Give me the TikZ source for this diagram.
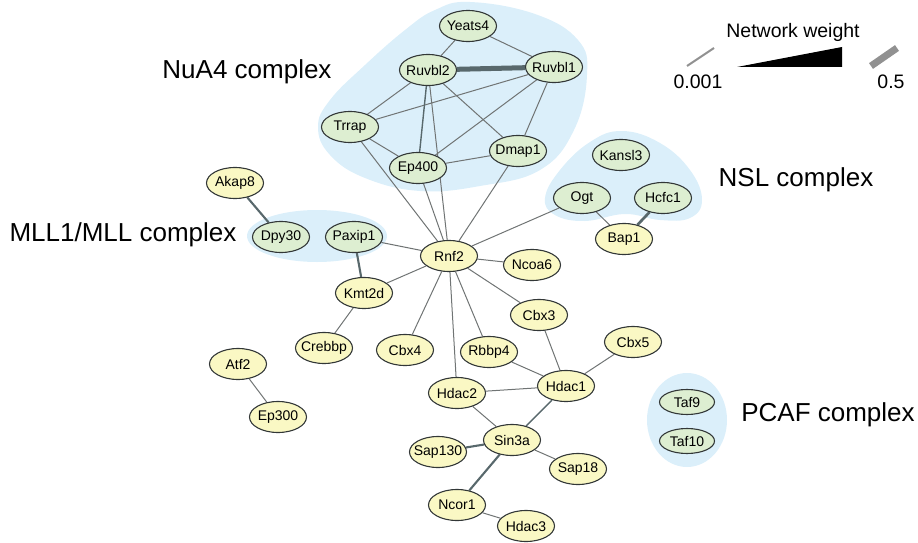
\documentclass[tikz,border=0pt]{standalone}
\usepackage{fontspec}
\setmainfont{Liberation Sans}
\usetikzlibrary{shapes.geometric}
\definecolor{blobblue}{RGB}{219,239,250}
\definecolor{ngreen}{RGB}{221,238,209}
\definecolor{nyellow}{RGB}{250,248,196}
\definecolor{nborder}{RGB}{50,55,55}
\definecolor{egray}{RGB}{112,116,116}
\definecolor{edark}{RGB}{88,104,108}
\definecolor{leggray}{RGB}{145,145,145}
\newcommand{\NL}[1]{\makebox[0pt][c]{#1}}
\pgfdeclarelayer{blobs}
\pgfdeclarelayer{edges}
\pgfsetlayers{blobs,edges,main}
\tikzset{
  base/.style={ellipse, draw=nborder, line width=1.1pt, minimum width=57pt, minimum height=31pt, inner sep=0pt, font=\fontsize{14}{16}\selectfont},
  gnode/.style={base, fill=ngreen},
  ynode/.style={base, fill=nyellow},
  smallg/.style={gnode, minimum width=55pt, minimum height=25pt},
  conn/.style={draw=egray, line width=1pt},
  conna/.style={draw=edark, line width=1.4pt},
  connb/.style={draw=edark, line width=2.1pt},
  connc/.style={draw=edark, line width=2.7pt},
  connd/.style={draw=edark, line width=5pt},
  blob/.style={fill=blobblue, draw=none},
  cplx/.style={font=\fontsize{26}{30}\selectfont},
  legtxt/.style={font=\fontsize{19.5}{23}\selectfont}
}
\begin{document}
\begin{tikzpicture}[x=1pt,y=-1pt]
\useasboundingbox (0,0) rectangle (918,543);
% nodes
\node[gnode] (yeats4) at (468,26) {\NL{Yeats4}};
\node[gnode] (ruvbl2) at (428,70) {\NL{Ruvbl2}};
\node[gnode] (ruvbl1) at (554,67) {\NL{Ruvbl1}};
\node[gnode] (trrap) at (350,127) {\NL{Trrap}};
\node[gnode] (ep400) at (418,168) {\NL{Ep400}};
\node[gnode] (dmap1) at (518,151) {\NL{Dmap1}};
\node[gnode] (kansl3) at (621,155) {\NL{Kansl3}};
\node[gnode] (ogt) at (582,198) {\NL{Ogt}};
\node[gnode] (hcfc1) at (663,198) {\NL{Hcfc1}};
\node[ynode] (bap1) at (624,239) {\NL{Bap1}};
\node[ynode] (akap8) at (235,183) {\NL{Akap8}};
\node[gnode] (dpy30) at (281,237) {\NL{Dpy30}};
\node[gnode] (paxip1) at (354,237) {\NL{Paxip1}};
\node[ynode] (rnf2) at (449,256) {\NL{Rnf2}};
\node[ynode] (ncoa6) at (532,265) {\NL{Ncoa6}};
\node[ynode] (kmt2d) at (364,293) {\NL{Kmt2d}};
\node[ynode] (crebbp) at (324,348) {\NL{Crebbp}};
\node[ynode] (cbx4) at (405,350) {\NL{Cbx4}};
\node[ynode] (cbx3) at (539,315) {\NL{Cbx3}};
\node[ynode] (rbbp4) at (489,352) {\NL{Rbbp4}};
\node[ynode] (cbx5) at (633,342) {\NL{Cbx5}};
\node[ynode] (atf2) at (238,364) {\NL{Atf2}};
\node[ynode] (ep300) at (278,417) {\NL{Ep300}};
\node[ynode] (hdac2) at (457,393) {\NL{Hdac2}};
\node[ynode] (hdac1) at (566,386) {\NL{Hdac1}};
\node[ynode] (sin3a) at (512,440) {\NL{Sin3a}};
\node[ynode] (sap130) at (438,452) {\NL{Sap130}};
\node[ynode] (sap18) at (578,469) {\NL{Sap18}};
\node[ynode] (ncor1) at (457,505) {\NL{Ncor1}};
\node[ynode] (hdac3) at (526,526) {\NL{Hdac3}};
\node[smallg] (taf9) at (687,402) {\NL{Taf9}};
\node[smallg] (taf10) at (687,441) {\NL{Taf10}};
% complex labels
\node[cplx] (lnua4) at (247,72) {NuA4 complex};
\node[cplx] (lnsl) at (796,180) {NSL complex};
\node[cplx] (lmll) at (123,235) {MLL1/MLL complex};
\node[cplx] (lpcaf) at (828,415) {PCAF complex};
% blobs
\begin{pgfonlayer}{blobs}
\fill[blob] plot[smooth cycle, tension=0.7] coordinates {(470,2) (535,14) (578,40) (587,75) (574,130) (540,170) (480,186) (420,191) (365,178) (330,155) (318,127) (330,100) (365,65) (405,30) (435,10)};
\fill[blob] plot[smooth cycle, tension=0.7] coordinates {(622,131) (660,143) (690,170) (702,200) (690,218) (660,220) (625,214) (585,221) (555,215) (545,198) (560,170) (590,142)};
\fill[blob] (317,236) ellipse[x radius=70, y radius=26];
\fill[blob] (687,420) ellipse[x radius=40, y radius=47];
\end{pgfonlayer}
% edges
\begin{pgfonlayer}{edges}
\draw[conn] (yeats4) -- (ruvbl2);
\draw[conn] (yeats4) -- (ruvbl1);
\draw[connd] (ruvbl2) -- (ruvbl1);
\draw[conn] (ruvbl2) -- (trrap);
\draw[conn] (ruvbl1) -- (trrap);
\draw[conna] (ruvbl2) -- (ep400);
\draw[conn] (ruvbl2) -- (dmap1);
\draw[conn] (ruvbl1) -- (ep400);
\draw[conn] (ruvbl1) -- (dmap1);
\draw[conn] (trrap) -- (ep400);
\draw[conn] (ep400) -- (dmap1);
\draw[conn] (trrap) -- (rnf2);
\draw[conn] (ruvbl2) -- (rnf2);
\draw[conn] (ep400) -- (rnf2);
\draw[conn] (dmap1) -- (rnf2);
\draw[conn] (ogt) -- (rnf2);
\draw[conn] (paxip1) -- (rnf2);
\draw[conn] (ncoa6) -- (rnf2);
\draw[conn] (kmt2d) -- (rnf2);
\draw[conn] (cbx4) -- (rnf2);
\draw[conn] (hdac2) -- (rnf2);
\draw[conn] (rbbp4) -- (rnf2);
\draw[conn] (cbx3) -- (rnf2);
\draw[conn] (ogt) -- (bap1);
\draw[connc] (hcfc1) -- (bap1);
\draw[connb] (akap8) -- (dpy30);
\draw[connb] (paxip1) -- (kmt2d);
\draw[conn] (kmt2d) -- (crebbp);
\draw[conn] (atf2) -- (ep300);
\draw[conn] (cbx3) -- (hdac1);
\draw[conn] (rbbp4) -- (hdac1);
\draw[conn] (cbx5) -- (hdac1);
\draw[conn] (hdac2) -- (hdac1);
\draw[conn] (hdac2) -- (sin3a);
\draw[conna] (hdac1) -- (sin3a);
\draw[connb] (sin3a) -- (sap130);
\draw[conn] (sin3a) -- (sap18);
\draw[connb] (sin3a) -- (ncor1);
\draw[conn] (ncor1) -- (hdac3);
\end{pgfonlayer}
% legend
\node[legtxt] (legtitle) at (793,32) {Network weight};
\node[legtxt] (leglo) at (698,82) {0.001};
\node[legtxt] (leghi) at (891,82) {0.5};
\fill[black] (737,67) -- (842,67) -- (842,47) -- cycle;
\draw[leggray, line width=2pt] (687,66) -- (714,48);
\draw[leggray, line width=7pt] (871,66) -- (897,48);
\end{tikzpicture}
\end{document}
